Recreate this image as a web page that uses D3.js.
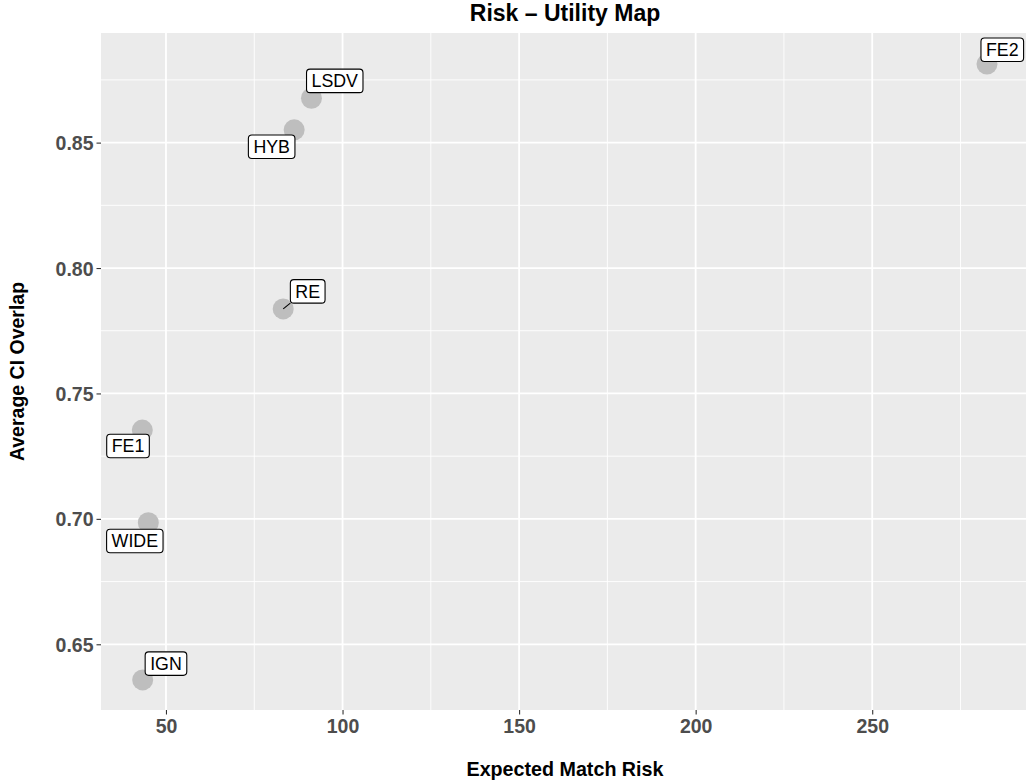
<!DOCTYPE html>
<html><head><meta charset="utf-8">
<script src="https://cdn.jsdelivr.net/npm/d3@7"></script>
<style>body{margin:0;background:#fff}svg{display:block}text{font-family:"Liberation Sans",Arial,Helvetica,sans-serif}</style>
</head><body>
<svg id="c" width="1026" height="781"></svg>
<script>
const methods = ["LSDV","HYB","RE","FE1","WIDE","IGN","FE2"];
const risk    = [91.2, 86.3, 83.2, 43.3, 45.0, 43.4, 282.5];
const overlap = [0.8677, 0.8551, 0.7837, 0.7354, 0.6985, 0.6358, 0.8813];
const xTicks = [50,100,150,200,250];
const yTicks = [0.65,0.70,0.75,0.80,0.85];
const xMinor = [75,125,175,225,275];
const yMinor = [0.675,0.725,0.775,0.825,0.875];
// label placement (repel result), pixel offsets from point
const labelDx = [23.3,-22.5,24.5,-14.3,-13.5,23.3,15.3];
const labelDy = [-17.3,17,-17.5,16,18.3,-16.3,-14.3];

const svg = d3.select("#c");
const L=101, R=1029, T=33, B=710;
const x = d3.scaleLinear().domain([31.6,294.4]).range([L,R]);
const y = d3.scaleLinear().domain([0.6238,0.8937]).range([B,T]);

svg.append("rect").attr("x",L).attr("y",T).attr("width",R-L).attr("height",B-T).attr("fill","#EBEBEB");
const g = svg.append("g");
g.selectAll(".xm").data(xMinor).join("line").attr("x1",d=>x(d)).attr("x2",d=>x(d)).attr("y1",T).attr("y2",B).attr("stroke","#fff").attr("stroke-width",0.9);
g.selectAll(".ym").data(yMinor).join("line").attr("y1",d=>y(d)).attr("y2",d=>y(d)).attr("x1",L).attr("x2",R).attr("stroke","#fff").attr("stroke-width",0.9);
g.selectAll(".xM").data(xTicks).join("line").attr("x1",d=>x(d)).attr("x2",d=>x(d)).attr("y1",T).attr("y2",B).attr("stroke","#fff").attr("stroke-width",1.8);
g.selectAll(".yM").data(yTicks).join("line").attr("y1",d=>y(d)).attr("y2",d=>y(d)).attr("x1",L).attr("x2",R).attr("stroke","#fff").attr("stroke-width",1.8);

// axes
const xa = svg.append("g").attr("transform",`translate(0,${B})`).call(d3.axisBottom(x).tickValues(xTicks).tickSize(4.5).tickPadding(4).tickFormat(d3.format("d")));
const ya = svg.append("g").attr("transform",`translate(${L},0)`).call(d3.axisLeft(y).tickValues(yTicks).tickSize(4.5).tickPadding(3).tickFormat(d3.format(".2f")));
[xa,ya].forEach(a=>{a.select(".domain").remove();a.selectAll(".tick line").attr("stroke","#333").attr("stroke-width",1.1);
  a.selectAll(".tick text").attr("fill","#4D4D4D").attr("font-size",19.5).attr("font-weight","bold").attr("font-family",'"Liberation Sans",Arial,sans-serif');});
xa.selectAll(".tick text").attr("dy","0.75em");
ya.selectAll(".tick text").attr("dy","0.36em");

const data = methods.map((m,i)=>({m,x:risk[i],y:overlap[i],dx:labelDx[i],dy:labelDy[i]}));
svg.append("g").selectAll("circle").data(data).join("circle").attr("cx",d=>x(d.x)).attr("cy",d=>y(d.y)).attr("r",10.5).attr("fill","#BEBEBE");

const lab = svg.append("g");
data.forEach(d=>{
  const px=x(d.x), py=y(d.y), cx=px+d.dx, cy=py+d.dy;
  const t = lab.append("text").attr("x",cx).attr("y",cy).attr("dy","0.36em").attr("text-anchor","middle").attr("font-size",17.8).attr("fill","#000").text(d.m);
  const w = t.node().getComputedTextLength()+10, h=23.5;
  const bx=cx-w/2, by=cy-h/2;
  const nx=Math.max(bx,Math.min(px,bx+w)), ny=Math.max(by,Math.min(py,by+h));
  const dist=Math.hypot(nx-px,ny-py);
  if(dist>7.2) lab.insert("line","text").attr("x1",px).attr("y1",py).attr("x2",nx).attr("y2",ny).attr("stroke","#000").attr("stroke-width",1.1);
  lab.insert("rect","text").attr("x",bx).attr("y",by).attr("width",w).attr("height",h).attr("rx",3.5).attr("fill","#fff").attr("stroke","#000").attr("stroke-width",1.1);
});
lab.selectAll("text").raise();

svg.append("text").attr("x",(L+R)/2).attr("y",21).attr("text-anchor","middle").attr("font-size",23).attr("font-weight","bold").text("Risk – Utility Map");
svg.append("text").attr("x",(L+R)/2).attr("y",776).attr("text-anchor","middle").attr("font-size",19.7).attr("font-weight","bold").text("Expected Match Risk");
svg.append("text").attr("transform",`translate(24,${(T+B)/2}) rotate(-90)`).attr("text-anchor","middle").attr("font-size",19.5).attr("font-weight","bold").text("Average CI Overlap");
</script>
</body></html>
